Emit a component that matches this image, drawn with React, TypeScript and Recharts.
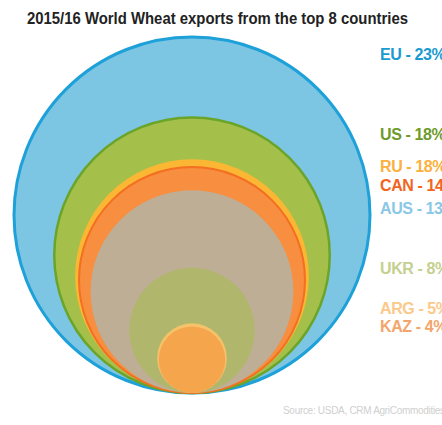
import { ScatterChart, Scatter, XAxis, YAxis, ZAxis } from "recharts";

// countries, top exporter first
const countries = ["EU", "US", "RU", "CAN", "AUS", "UKR", "ARG", "KAZ"];
// share of world exports as printed in the labels (%)
const shareLabels = [23, 18, 18, 14, 13, 8, 5, 4];
// circle size as drawn (radius, in share points)
const circleSize = [23, 17.8, 15.1, 14.6, 13.1, 8.1, 4.5, 4.3];

const FILLS = ["#7cc6e4", "#a4c04a", "#fbb634", "#f88e3f", "#bfae96", "#b1b66d", "#f5c26a", "#f5a64c"];
const STROKES = ["#1ea0d8", "#6ba42a", "#fbb634", "#f36f21", "#bfae96", "#b1b66d", "#f5c26a", "#f5a64c"];
const STROKE_W = [3, 2.5, 0, 2, 0, 0, 0, 0];
const LABEL_COLORS = ["#1a9ad0", "#6e9a2a", "#fbb040", "#f26522", "#8ac8e6", "#c5d08f", "#fbc98a", "#f4a56c"];
const LABEL_Y = [55, 135, 167, 186, 209, 269, 309, 327];

const MAX = circleSize[0];
const MAX_PX = 178; // radius of the biggest circle in pixels

const data = countries.map((c, i) => ({
  name: c,
  x: 0,
  y: circleSize[i], // centre sits one radius above the common baseline
  z: circleSize[i] * circleSize[i], // z is drawn as area
  idx: i,
}));

const FONT = "'Liberation Sans', Arial, sans-serif";

const Bubble = (props: any) => {
  const { cx, cy, payload } = props;
  const r = props.width ? props.width / 2 : Math.sqrt((props.size || 0) / Math.PI);
  const i = payload.idx;
  return (
    <circle
      cx={cx}
      cy={cy}
      r={r}
      fill={FILLS[i]}
      stroke={STROKE_W[i] ? STROKES[i] : "none"}
      strokeWidth={STROKE_W[i]}
    />
  );
};

export default function App() {
  return (
    <div
      style={{
        position: "fixed",
        left: 0,
        top: 0,
        width: 442,
        height: 425,
        overflow: "hidden",
        background: "#fff",
        fontFamily: FONT,
      }}
    >
      <svg
        width={442}
        height={34}
        style={{ position: "absolute", left: 0, top: 0 }}
      >
        <text
          x={27}
          y={24}
          textLength={381}
          lengthAdjust="spacingAndGlyphs"
          fontFamily={FONT}
          fontWeight="bold"
          fontSize={16}
          fill="#222"
        >
          2015/16 World Wheat exports from the top 8 countries
        </text>
      </svg>
      <ScatterChart
        width={442}
        height={425}
        margin={{ top: 37, right: 72, bottom: 32, left: 14 }}
      >
        <XAxis type="number" dataKey="x" domain={[-MAX, MAX]} hide />
        <YAxis type="number" dataKey="y" domain={[0, 2 * MAX]} hide />
        <ZAxis
          type="number"
          dataKey="z"
          domain={[0, MAX * MAX]}
          range={[0, Math.PI * MAX_PX * MAX_PX]}
        />
        <Scatter data={data} shape={<Bubble />} isAnimationActive={false} />
      </ScatterChart>
      {countries.map((c, i) => (
        <div
          key={c}
          style={{
            position: "absolute",
            left: 380,
            top: LABEL_Y[i] - 10,
            whiteSpace: "nowrap",
            fontWeight: "bold",
            fontSize: 16,
            lineHeight: "20px",
            letterSpacing: -0.4,
            color: LABEL_COLORS[i],
          }}
        >
          {`${c} - ${shareLabels[i]}%`}
        </div>
      ))}
      <div
        style={{
          position: "absolute",
          left: 283,
          top: 405,
          whiteSpace: "nowrap",
          fontSize: 10,
          letterSpacing: -0.3,
          color: "#cfcfcf",
        }}
      >
        Source: USDA, CRM AgriCommodities
      </div>
    </div>
  );
}
